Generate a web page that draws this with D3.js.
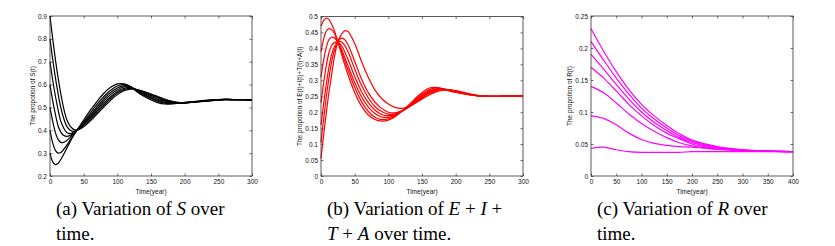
<!DOCTYPE html>
<html>
<head>
<meta charset="utf-8">
<script src="https://cdn.jsdelivr.net/npm/d3@7"></script>
<style>
  body { margin: 0; background: #fff; }
  .tick text { font-family: "Liberation Sans", Arial, sans-serif; font-size: 6.5px; fill: #111; }
  .tick line { stroke: #333; stroke-width: 0.7; }
  .axisText { font-family: "Liberation Sans", Arial, sans-serif; font-size: 6.5px; fill: #111; }
  .caption { font-family: "Times New Roman", "Liberation Serif", "DejaVu Serif", serif; font-size: 19px; fill: #000; }
</style>
</head>
<body>
<div id="my_dataviz"></div>
<script>
// time samples (years) for panels a and b
var tAB = [0, 4, 8, 12, 16, 20, 25, 30, 35, 40, 50, 60, 70, 80, 90, 100, 110, 120,
    130, 140, 150, 160, 170, 180, 190, 200, 220, 240, 260, 280, 300];
// time samples for panel c
var tC = [0, 25, 50, 75, 100, 125, 150, 175, 200, 250, 300, 350, 400];

// S(t), one row per initial condition
var sSeries = [
    [.30, .262, .250, .256, .272, .293, .322, .350, .377, .400, .445, .488, .527, .562, .588, .603, .603, .590, .566, .548, .533, .521, .515, .515, .518, .522, .528, .533, .535, .534, .533],
    [.40, .345, .312, .300, .303, .315, .335, .358, .380, .400, .437, .476, .514, .548, .575, .594, .600, .590, .570, .553, .538, .527, .519, .516, .518, .521, .527, .532, .535, .534, .533],
    [.50, .440, .390, .360, .347, .347, .355, .370, .386, .400, .432, .467, .503, .537, .565, .585, .595, .589, .573, .557, .543, .531, .523, .519, .518, .520, .526, .532, .535, .534, .533],
    [.60, .530, .470, .420, .392, .378, .373, .378, .389, .400, .428, .460, .494, .527, .556, .577, .590, .588, .575, .561, .548, .536, .527, .521, .519, .520, .526, .531, .535, .534, .533],
    [.70, .620, .550, .490, .440, .412, .390, .385, .390, .400, .425, .454, .486, .518, .547, .570, .584, .586, .576, .564, .552, .541, .531, .524, .520, .520, .525, .531, .534, .534, .533],
    [.80, .710, .630, .560, .500, .455, .417, .400, .395, .400, .421, .448, .479, .510, .539, .563, .579, .583, .577, .567, .556, .545, .534, .526, .521, .520, .525, .530, .534, .534, .533],
    [.90, .800, .710, .630, .560, .500, .446, .418, .404, .400, .415, .441, .471, .502, .531, .556, .573, .580, .577, .569, .559, .548, .537, .528, .522, .520, .524, .530, .534, .534, .533]
];

// E(t)+I(t)+T(t)+A(t)
var eitaSeries = [
    [.470, .488, .495, .490, .475, .455, .420, .385, .350, .318, .262, .220, .192, .177, .172, .175, .186, .203, .222, .243, .262, .275, .278, .274, .267, .262, .255, .250, .250, .251, .252],
    [.390, .430, .455, .462, .458, .447, .421, .393, .362, .333, .278, .234, .203, .184, .177, .179, .188, .203, .220, .239, .257, .270, .276, .274, .268, .263, .255, .250, .250, .251, .252],
    [.310, .365, .405, .428, .435, .433, .420, .400, .373, .346, .293, .249, .217, .196, .185, .184, .190, .202, .218, .236, .253, .266, .273, .274, .269, .264, .255, .250, .250, .251, .252],
    [.230, .293, .348, .388, .410, .418, .420, .410, .390, .366, .312, .265, .231, .207, .193, .189, .192, .203, .217, .233, .250, .263, .271, .273, .270, .265, .256, .250, .250, .251, .252],
    [.160, .228, .290, .343, .382, .405, .420, .421, .410, .390, .336, .285, .246, .218, .202, .194, .195, .203, .216, .231, .247, .260, .269, .272, .270, .266, .256, .251, .250, .251, .252],
    [.105, .180, .250, .310, .360, .395, .420, .432, .428, .412, .360, .305, .262, .232, .212, .200, .198, .204, .215, .229, .244, .257, .266, .271, .270, .267, .257, .251, .250, .251, .252],
    [.055, .130, .200, .265, .320, .375, .420, .443, .455, .453, .415, .360, .310, .270, .243, .226, .215, .212, .217, .228, .241, .253, .263, .268, .270, .268, .258, .251, .250, .251, .252]
];

// R(t)
var rSeries = [
    [.230, .195, .163, .135, .112, .094, .079, .066, .056, .046, .041, .039, .038],
    [.210, .181, .153, .128, .106, .089, .075, .063, .054, .045, .041, .039, .038],
    [.190, .167, .143, .120, .100, .084, .071, .060, .052, .044, .040, .039, .038],
    [.170, .153, .133, .112, .094, .079, .067, .058, .050, .043, .040, .039, .038],
    [.140, .130, .114, .097, .082, .070, .060, .052, .047, .042, .040, .039, .038],
    [.094, .090, .080, .067, .057, .051, .048, .046, .045, .042, .040, .039, .038],
    [.043, .045, .041, .038, .037, .037, .037, .037, .038, .038, .038, .038, .038]
];

var xTicksAB = [0, 50, 100, 150, 200, 250, 300];
var xTicksC = [0, 50, 100, 150, 200, 250, 300, 350, 400];
var yTicksA = [0.2, 0.3, 0.4, 0.5, 0.6, 0.7, 0.8, 0.9];
var yTicksB = [0, 0.05, 0.1, 0.15, 0.2, 0.25, 0.3, 0.35, 0.4, 0.45, 0.5];
var yTicksC = [0, 0.05, 0.1, 0.15, 0.2, 0.25];

var svg = d3.select("#my_dataviz")
    .append("svg")
    .attr("width", 835)
    .attr("height", 246);

var fmt = d3.format("~g");

function drawPanel(p) {
    var x = d3.scaleLinear().domain(p.xDomain).range([p.left, p.right]);
    var y = d3.scaleLinear().domain(p.yDomain).range([p.bottom, p.top]);
    var g = svg.append("g");

    // box-style axes with inward ticks on all sides
    g.append("g")
        .attr("transform", "translate(0," + p.bottom + ")")
        .call(d3.axisBottom(x).tickValues(p.xTicks).tickFormat(fmt)
            .tickSizeInner(-2.5).tickSizeOuter(0).tickPadding(3.5))
        .call(a => a.select(".domain").remove());
    g.append("g")
        .attr("transform", "translate(0," + p.top + ")")
        .call(d3.axisTop(x).tickValues(p.xTicks).tickFormat("")
            .tickSizeInner(-2.5).tickSizeOuter(0))
        .call(a => a.select(".domain").remove());
    g.append("g")
        .attr("transform", "translate(" + p.left + ",0)")
        .call(d3.axisLeft(y).tickValues(p.yTicks).tickFormat(fmt)
            .tickSizeInner(-2.5).tickSizeOuter(0).tickPadding(3))
        .call(a => a.select(".domain").remove());
    g.append("g")
        .attr("transform", "translate(" + p.right + ",0)")
        .call(d3.axisRight(y).tickValues(p.yTicks).tickFormat("")
            .tickSizeInner(-2.5).tickSizeOuter(0))
        .call(a => a.select(".domain").remove());

    var line = d3.line()
        .x((d, i) => x(p.t[i]))
        .y(d => y(d))
        .curve(d3.curveCatmullRom.alpha(0.5));

    g.selectAll("path.series")
        .data(p.series)
        .join("path")
        .attr("class", "series")
        .attr("d", line)
        .attr("fill", "none")
        .attr("stroke", p.color)
        .attr("stroke-width", 1.2);

    g.append("rect")
        .attr("x", p.left).attr("y", p.top)
        .attr("width", p.right - p.left).attr("height", p.bottom - p.top)
        .attr("fill", "none")
        .attr("stroke", "#333")
        .attr("stroke-width", 0.8);

    g.append("text")
        .attr("class", "axisText")
        .attr("x", (p.left + p.right) / 2)
        .attr("y", 194)
        .style("text-anchor", "middle")
        .text("Time(year)");

    g.append("text")
        .attr("class", "axisText")
        .attr("transform", "translate(" + p.yLabelX + "," + ((p.top + p.bottom) / 2) + ") rotate(-90)")
        .style("text-anchor", "middle")
        .text(p.yLabel);
}

drawPanel({ left: 50, right: 252, top: 16, bottom: 176, xDomain: [0, 300], yDomain: [0.2, 0.9],
    xTicks: xTicksAB, yTicks: yTicksA, t: tAB, series: sSeries, color: "#000",
    yLabel: "The propotion of S(t)", yLabelX: 35 });
drawPanel({ left: 321, right: 523, top: 16.5, bottom: 176, xDomain: [0, 300], yDomain: [0, 0.5],
    xTicks: xTicksAB, yTicks: yTicksB, t: tAB, series: eitaSeries, color: "#ff0000",
    yLabel: "The propotion of E(t)+I(t)+T(t)+A(t)", yLabelX: 302 });
drawPanel({ left: 591, right: 793, top: 16, bottom: 176, xDomain: [0, 400], yDomain: [0, 0.25],
    xTicks: xTicksC, yTicks: yTicksC, t: tC, series: rSeries, color: "#ff00ff",
    yLabel: "The propotion of R(t)", yLabelX: 572 });

// captions
function caption(x, lines) {
    lines.forEach((parts, i) => {
        var t = svg.append("text")
            .attr("class", "caption")
            .attr("x", x).attr("y", 215 + i * 25);
        parts.forEach(s => {
            t.append("tspan")
                .style("font-style", s.it ? "italic" : "normal")
                .text(s.s);
        });
    });
}
caption(56, [
    [{ s: "(a) Variation of " }, { s: "S", it: true }, { s: "  over" }],
    [{ s: "time." }]
]);
caption(327, [
    [{ s: "(b) Variation of " }, { s: "E", it: true }, { s: " + " }, { s: "I", it: true }, { s: " +" }],
    [{ s: "T", it: true }, { s: " + " }, { s: "A", it: true }, { s: " over time." }]
]);
caption(597, [
    [{ s: "(c) Variation of " }, { s: "R", it: true }, { s: " over" }],
    [{ s: "time." }]
]);
</script>
</body>
</html>
